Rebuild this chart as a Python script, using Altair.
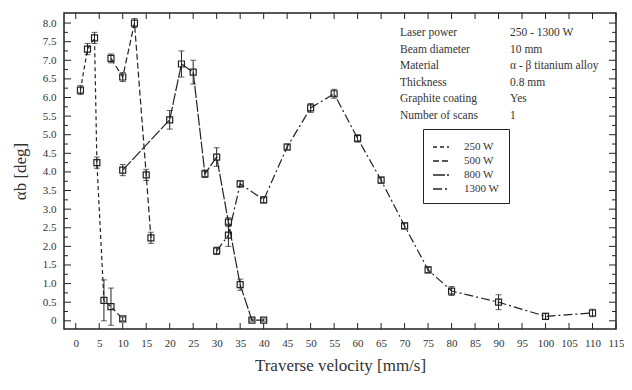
import altair as alt
import pandas as pd

series_names = ["250 W", "500 W", "800 W", "1300 W"]

x_250 = [1, 2.5, 4, 4.5, 6, 7.5, 10]
y_250 = [6.2, 7.3, 7.6, 4.25, 0.55, 0.38, 0.05]
e_250 = [0.12, 0.15, 0.15, 0.15, 0.55, 0.5, 0.05]

x_500 = [7.5, 10, 12.5, 15, 16]
y_500 = [7.05, 6.55, 8.0, 3.92, 2.23]
e_500 = [0.12, 0.12, 0.12, 0.15, 0.15]

x_800 = [10, 20, 22.5, 25, 27.5, 30, 32.5, 35, 37.5, 40]
y_800 = [4.05, 5.4, 6.9, 6.68, 3.95, 4.4, 2.65, 0.97, 0.02, 0.02]
e_800 = [0.15, 0.25, 0.35, 0.32, 0.1, 0.25, 0.12, 0.15, 0.03, 0.03]

x_1300 = [30, 32.5, 35, 40, 45, 50, 55, 60, 65, 70, 75, 80, 90, 100, 110]
y_1300 = [1.88, 2.3, 3.68, 3.25, 4.67, 5.72, 6.1, 4.9, 3.78, 2.55, 1.37, 0.8, 0.5, 0.12, 0.21]
e_1300 = [0.1, 0.3, 0.08, 0.08, 0.08, 0.12, 0.12, 0.1, 0.08, 0.08, 0.08, 0.12, 0.2, 0.08, 0.1]

x_ticks = list(range(0, 120, 5))
y_major = [i * 0.5 for i in range(0, 17)]
y_minor = [0.25 + i * 0.5 for i in range(0, 16)]

info_labels = ["Laser power", "Beam diameter", "Material", "Thickness",
               "Graphite coating", "Number of scans"]
info_values = ["250 - 1300 W", "\u00a010 mm", "\u03b1 - \u03b2 titanium alloy",
               "\u00a00.8 mm", "\u00a0\u00a0Yes", "\u00a0\u00a0\u00a01"]

rows = []
for name, xs, ys, es in [("250 W", x_250, y_250, e_250), ("500 W", x_500, y_500, e_500),
                         ("800 W", x_800, y_800, e_800), ("1300 W", x_1300, y_1300, e_1300)]:
    for i, (a, b, c) in enumerate(zip(xs, ys, es)):
        rows.append({"series": name, "x": a, "y": b, "err": c, "idx": i})
df = pd.DataFrame(rows)

W, H = 552, 316
FONT = "Liberation Serif"
INK = "#222222"

xs_ = alt.Scale(domain=[-2.5, 115], nice=False, zero=False)
ys_ = alt.Scale(domain=[-0.22, 8.27], nice=False, zero=False)

xaxis = alt.Axis(values=x_ticks, title="Traverse velocity [mm/s]", ticks=False, domain=False,
                 grid=False, labelFlush=False, labelOverlap=False, labelPadding=8,
                 labelFont=FONT, labelFontSize=11, labelColor="#333",
                 titleFont=FONT, titleFontSize=17, titleFontWeight="normal",
                 titleColor="#333", titlePadding=9)
yaxis = alt.Axis(values=y_major, title="\u03b1b [deg]", ticks=False, domain=False, grid=False,
                 labelExpr="datum.value == 0 ? '0' : format(datum.value, '.1f')",
                 labelPadding=8, labelFont=FONT, labelFontSize=11, labelColor="#333",
                 labelFlush=False, labelOverlap=False,
                 titleFont=FONT, titleFontSize=17, titleFontWeight="normal",
                 titleColor="#333", titlePadding=13)

X = alt.X("x:Q", scale=xs_, axis=xaxis)
Y = alt.Y("y:Q", scale=ys_, axis=yaxis)

base = alt.Chart(df)

dash = alt.StrokeDash(
    "series:N",
    scale=alt.Scale(domain=series_names, range=[[4, 3], [6, 3], [12, 2], [9, 3, 2, 3]]),
    legend=alt.Legend(title=None, orient="none", legendX=359, legendY=116,
                      strokeColor=INK, padding=9, symbolType="stroke", symbolSize=256,
                      symbolStrokeColor=INK, symbolStrokeWidth=1.3, labelOffset=14,
                      labelFont=FONT, labelFontSize=11, labelColor="#333", rowPadding=0,
                      fillColor="white"),
)

lines = base.mark_line(color=INK, strokeWidth=1.2).encode(
    x=X, y=Y, strokeDash=dash, order="idx:Q")

errs = base.transform_calculate(lo="datum.y - datum.err", hi="datum.y + datum.err").mark_rule(
    color=INK, strokeWidth=1).encode(x=X, y=alt.Y("lo:Q", scale=ys_, axis=yaxis), y2="hi:Q")
cap_lo = base.transform_calculate(lo="datum.y - datum.err").mark_tick(
    orient="horizontal", color=INK, size=6, thickness=1).encode(
    x=X, y=alt.Y("lo:Q", scale=ys_, axis=yaxis))
cap_hi = base.transform_calculate(hi="datum.y + datum.err").mark_tick(
    orient="horizontal", color=INK, size=6, thickness=1).encode(
    x=X, y=alt.Y("hi:Q", scale=ys_, axis=yaxis))

pts = base.mark_point(shape="square", filled=False, color=INK, size=36, strokeWidth=1.2,
                      opacity=1).encode(x=X, y=Y)

xt = alt.Chart(pd.DataFrame({"x": x_ticks}))
ticks_bottom = xt.mark_rule(color=INK, strokeWidth=1).encode(
    x=X, y=alt.value(H), y2=alt.value(H - 6))
ticks_top = xt.mark_rule(color=INK, strokeWidth=1).encode(
    x=X, y=alt.value(0), y2=alt.value(6))

ytm = alt.Chart(pd.DataFrame({"y": y_major}))
ytn = alt.Chart(pd.DataFrame({"y": y_minor}))
yl_major = ytm.mark_rule(color=INK, strokeWidth=1).encode(y=Y, x=alt.value(0), x2=alt.value(7))
yr_major = ytm.mark_rule(color=INK, strokeWidth=1).encode(y=Y, x=alt.value(W), x2=alt.value(W - 7))
yl_minor = ytn.mark_rule(color=INK, strokeWidth=1).encode(y=Y, x=alt.value(0), x2=alt.value(4))
yr_minor = ytn.mark_rule(color=INK, strokeWidth=1).encode(y=Y, x=alt.value(W), x2=alt.value(W - 4))

info = alt.Chart(pd.DataFrame({"label": info_labels, "value": info_values,
                               "row": list(range(len(info_labels)))})).transform_calculate(
    y="7.73 - datum.row * 0.443")
info_l = info.mark_text(align="left", baseline="middle", font=FONT, fontSize=11.5,
                        color="#333").encode(x=alt.value(336), y=Y, text="label:N")
info_v = info.mark_text(align="left", baseline="middle", font=FONT, fontSize=11.5,
                        color="#333").encode(x=alt.value(446), y=Y, text="value:N")

chart = alt.layer(
    ticks_bottom, ticks_top, yl_major, yr_major, yl_minor, yr_minor,
    errs, cap_lo, cap_hi, lines, pts, info_l, info_v
).properties(
    width=W, height=H,
    padding={"left": 56, "top": 5, "right": 8, "bottom": 53},
    autosize=alt.AutoSizeParams(type="none"),
    background="white",
).configure(font=FONT).configure_view(stroke=INK, strokeWidth=1.5)

chart.save("out.html", embed_options={"renderer": "svg", "actions": False})
